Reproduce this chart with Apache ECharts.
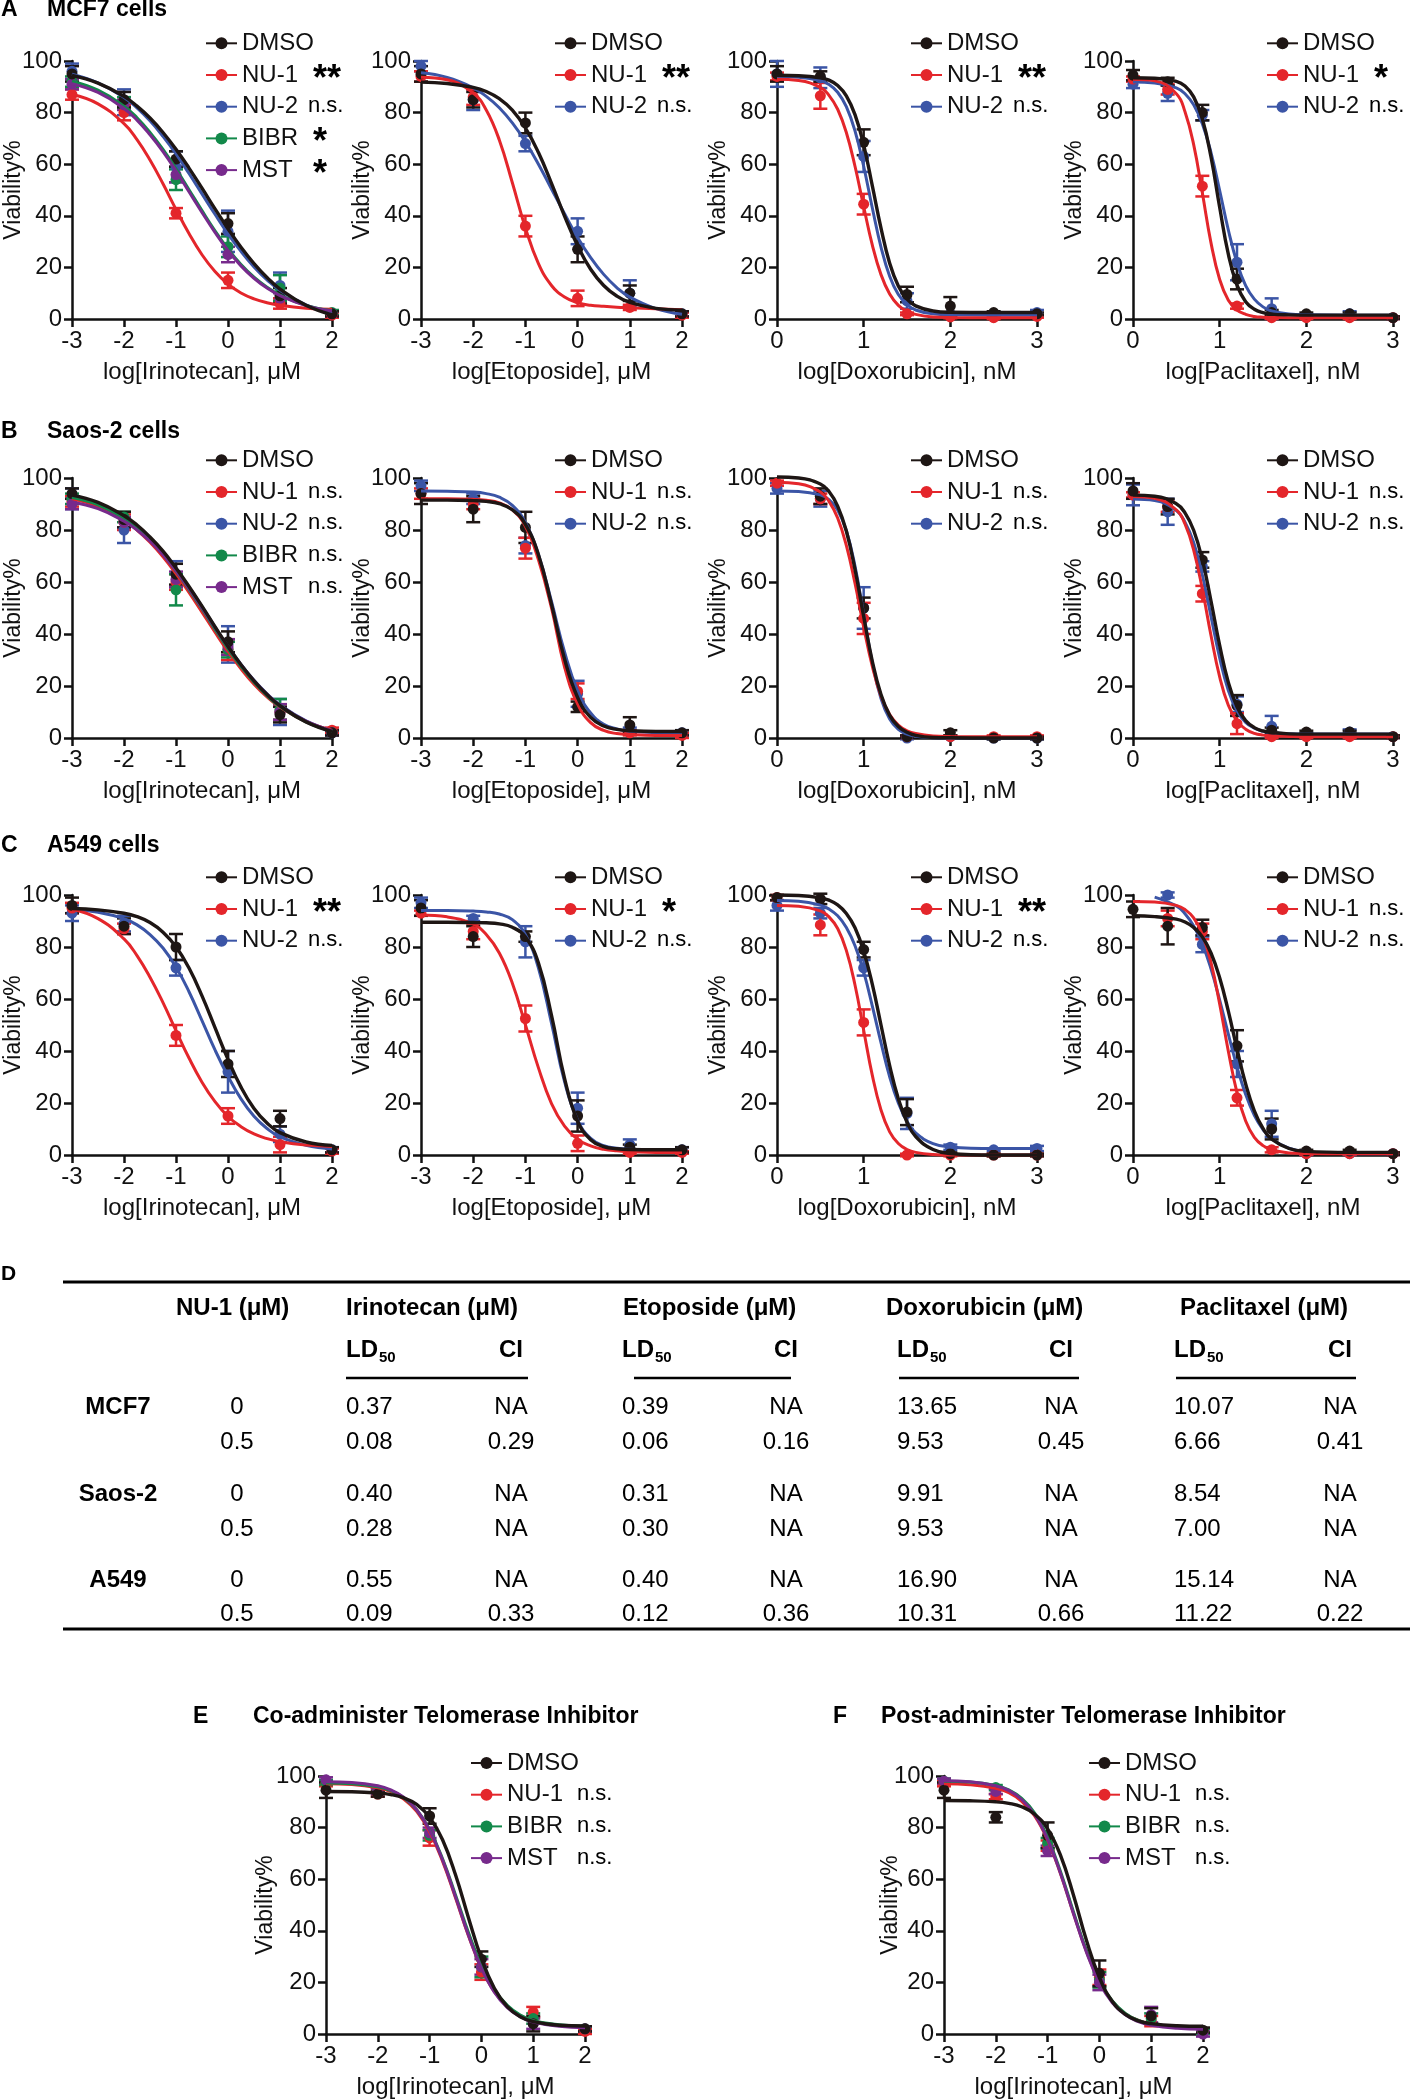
<!DOCTYPE html>
<html><head><meta charset="utf-8">
<script src="https://cdn.jsdelivr.net/npm/echarts/dist/echarts.min.js"></script>
<style>html,body{margin:0;padding:0;background:#fff}#c{width:1410px;height:2100px}</style>
</head><body><div id="c"></div>
<script>
// ---------- shared x positions ----------
const FIT_X_UM = [-3,-2.5,-2,-1.75,-1.5,-1.25,-1,-0.75,-0.5,-0.25,0,0.25,0.5,0.75,1,1.5,2];
const FIT_X_NM = [0,0.25,0.5,0.6,0.7,0.8,0.9,1,1.1,1.2,1.3,1.4,1.5,1.6,1.8,2,2.5,3];
const PT_UM  = [-3,-2,-1,0,1,2];
const PT_DOX = [0,0.5,1,1.5,2,2.5,3];
const PT_PAC = [0,0.4,0.8,1.2,1.6,2,2.5,3];

// ---------- A: MCF7 ----------
const A1_names = ['DMSO','NU-1','NU-2','BIBR','MST'];
const A1_sig = ['','**','n.s.','*','*'];
const A1_fit = [
 [94.4,91.4,86.3,82.5,77.9,72.3,65.8,58.5,50.7,42.7,35.0,27.8,21.5,16.1,11.6,5.3,1.6],
 [87.0,83.4,75.7,69.5,61.6,52.4,42.5,33.1,24.9,18.4,13.5,10.1,7.8,6.3,5.3,4.2,3.8],
 [94.9,91.5,85.9,81.8,76.8,70.8,64.0,56.4,48.5,40.6,33.0,26.2,20.2,15.2,11.1,5.5,2.1],
 [92.2,88.7,82.5,78.0,72.3,65.7,58.2,50.1,42.0,34.2,27.2,21.1,16.2,12.3,9.3,5.3,3.2],
 [91.2,87.8,81.6,77.1,71.4,64.9,57.4,49.3,41.3,33.6,26.6,20.6,15.8,12.0,9.1,5.2,3.1]];
const A1_mean = [[95,85,62,37,9,2],[87,80,41,15,6,1.5],[96,84,59,34,13,2],[92,84,54,28,12,2.5],[91,83,56,25,8,2]];
const A1_sem  = [[3,3,3,4,3,1],[2,3,2,3,2,1],[3,5,6,8,5,1],[2,2,4,4,5,1],[2,2,3,3,2,1]];

const A2_names = ['DMSO','NU-1','NU-2'];
const A2_sig = ['','**','n.s.'];
const A2_fit = [
 [91.8,91.3,89.8,88.2,85.4,81.0,74.1,64.5,52.6,39.9,28.4,19.3,13.0,8.9,6.4,4.1,3.4],
 [93.7,92.7,87.6,81.0,69.4,52.8,35.3,21.5,13.0,8.5,6.3,5.3,4.9,4.6,4.4,4.0,3.6],
 [95.4,93.6,89.6,86.3,81.9,76.0,68.7,60.0,50.4,40.8,31.6,23.8,17.3,12.2,8.5,4.0,1.8]];
const A2_mean = [[95,85,76,27,10,2],[94,86,36,8,4.5,1.5],[98,85,68,34,10,2]];
const A2_sem  = [[3,3,4,5,3,1],[2,3,4,3,1,1],[2,4,3,5,5,1]];

const A3_names = ['DMSO','NU-1','NU-2'];
const A3_sig = ['','**','n.s.'];
const A3_fit = [
 [94.5,94.3,93.5,92.6,90.5,86.5,79.2,67.5,51.6,35.2,21.6,12.8,7.7,5.1,3.1,2.6,2.5,2.5],
 [92.9,92.4,89.8,86.7,81.3,72.3,59.2,43.6,28.6,17.2,9.7,5.3,3.0,1.8,0.8,0.6,0.5,0.5],
 [94.0,93.7,92.4,90.9,87.9,82.3,72.9,59.2,43.0,27.9,16.6,9.5,5.7,3.5,2.0,1.6,1.5,1.5]];
const A3_mean = [[95,94,68.5,9.5,5,2.5,2],[94,86.5,44.5,2,0.8,0.5,1],[95,93.5,63,7,2,2,2.5]];
const A3_sem  = [[3,2,5,3,3.5,0.5,0.5],[1.5,5,4,0.5,0.5,0.5,0.5],[5,4,6,3,0.5,0.5,1]];

const A4_names = ['DMSO','NU-1','NU-2'];
const A4_sig = ['','*','n.s.'];
const A4_fit = [
 [93.5,93.3,92.1,90.3,86.1,77.6,62.8,43.3,25.1,13.1,6.7,3.8,2.5,1.9,1.6,1.5,1.5,1.5],
 [92.9,92.3,87.3,80.3,67.6,48.9,29.5,15.3,7.3,3.5,1.8,1.0,0.7,0.6,0.5,0.5,0.5,0.5],
 [91.9,91.5,89.6,87.3,83.0,75.7,64.5,49.8,34.5,21.8,12.9,7.7,4.7,3.1,1.9,1.6,1.5,1.5]];
const A4_mean = [[94.5,92,80,15.5,2.5,2,2,0.5],[93,89,51.5,5,0.5,0.5,0.5,0.5],[91,87.5,79,22,4,1.3,2,0.5]];
const A4_sem  = [[2,1.5,3,4,1,0.5,0.5,0.5],[1,2,4,1,0.5,0.5,0.5,0.5],[1.5,3,2,7,4,0.5,1,0.5]];

// ---------- B: Saos-2 ----------
const B1_names = ['DMSO','NU-1','NU-2','BIBR','MST'];
const B1_sig = ['','n.s.','n.s.','n.s.','n.s.'];
const B1_fit = [
 [93.4,90.6,85.5,81.9,77.3,71.9,65.4,58.3,50.7,42.8,35.2,28.2,22.0,16.7,12.4,6.2,2.5],
 [92.0,89.0,83.8,80.0,75.3,69.7,63.2,56.0,48.4,40.7,33.3,26.6,20.7,15.8,11.9,6.3,3.0],
 [92.8,90.0,84.9,81.3,76.8,71.4,65.0,58.0,50.5,42.7,35.2,28.3,22.2,17.0,12.7,6.6,2.8],
 [92.5,89.7,84.5,80.8,76.2,70.7,64.2,57.1,49.6,41.8,34.3,27.5,21.4,16.3,12.1,6.2,2.6],
 [90.8,88.2,83.4,80.0,75.7,70.5,64.3,57.4,50.0,42.4,35.0,28.1,22.0,16.8,12.5,6.5,2.8]];
const B1_mean = [[94,84,63,37,9,2],[91,83,60,34,10,3],[92,80,63,36,10,2],[92,85,57,34,11,2],[90,83,61,35,10,2]];
const B1_sem  = [[2,3,4,4,3,1],[2,3,3,4,3,1],[4,5,5,7,5,1],[2,2,6,3,4,1],[2,2,3,3,3,1]];

const B2_names = ['DMSO','NU-1','NU-2'];
const B2_sig = ['','n.s.','n.s.'];
const B2_fit = [
 [91.5,91.5,91.3,91.0,90.1,87.8,82.2,70.5,51.4,30.4,15.6,7.9,4.6,3.3,2.8,2.5,2.5],
 [92.0,92.0,91.8,91.4,90.4,87.7,81.4,68.5,50.0,27.3,13.1,5.9,2.9,1.7,1.3,1.0,1.0],
 [95.0,94.9,94.6,94.0,92.6,89.5,82.9,70.6,52.5,33.1,18.2,9.6,5.3,3.5,2.6,2.1,2.0]];
const B2_mean = [[94,88,81,12,5,2],[94,90,73,18,2,1],[97,92,74,17,3,2]];
const B2_sem  = [[4,5,6,2,3,1],[2,2,4,3,1,1],[2,2,3,5,1,1]];

const B3_names = ['DMSO','NU-1','NU-2'];
const B3_sig = ['','n.s.','n.s.'];
const B3_fit = [
 [100.4,100.0,97.7,94.8,89.2,79.6,64.8,46.8,29.5,16.7,8.7,4.4,2.2,1.0,0.2,0.1,0,0],
 [98.4,97.8,94.6,91.0,84.6,74.1,59.5,42.7,27.5,16.2,9.0,5.0,2.8,1.7,0.8,0.6,0.5,0.5],
 [95.0,94.8,93.5,91.7,87.7,79.8,66.1,47.5,28.9,15.2,7.3,3.3,1.5,0.7,0.1,0,0,0]];
const B3_mean = [[null,93,50,0.5,2,0,0],[98,92,46,0.5,0.5,0.5,0.5],[96,92,50,0,0.5,0,0]];
const B3_sem  = [[0,3,4,0.5,1,0.5,0.5],[1,2,6,0.5,0.5,0.5,0.5],[2,3,8,0.5,0.5,0.5,0.5]];

const B4_names = ['DMSO','NU-1','NU-2'];
const B4_sig = ['','n.s.','n.s.'];
const B4_fit = [
 [93.4,93.0,90.1,86.6,79.9,68.6,52.7,35.6,21.4,12.0,6.7,4.0,2.7,2.1,1.6,1.5,1.5,1.5],
 [92.9,92.2,87.7,82.3,72.3,57.2,39.4,23.5,12.6,6.5,3.4,1.8,1.1,0.8,0.6,0.5,0.5,0.5],
 [91.9,91.3,87.5,83.0,75.2,62.7,46.8,30.8,18.3,10.5,6.0,3.8,2.6,2.0,1.6,1.5,1.5,1.5]];
const B4_mean = [[95,89,68.5,12.5,3,2.3,2.3,0.5],[93.5,89,55.5,5.5,0.5,0.5,0.5,0.5],[93.5,87,66,13,4.5,1.2,2.3,0.5]];
const B4_sem  = [[3,3,3,4,1,0.5,0.5,0.5],[1,2,3,4,0.5,0.5,0.5,0.5],[4,5,2,3,4,0.5,1,0.5]];

// ---------- C: A549 ----------
const C1_names = ['DMSO','NU-1','NU-2'];
const C1_sig = ['','**','n.s.'];
const C1_fit = [
 [94.8,94.3,93.0,91.7,89.4,85.7,80.1,71.9,61.2,49.0,36.8,26.1,17.9,12.3,8.6,5.0,3.7],
 [94.5,90.9,83.1,76.7,68.4,58.6,47.8,37.3,28.0,20.5,14.8,10.9,8.1,6.3,5.1,3.8,3.3],
 [94.4,93.4,90.9,88.5,84.8,79.6,72.3,62.8,51.7,40.4,30.3,21.6,14.9,10.2,7.0,3.7,2.3]];
const C1_mean = [[96,88,80,35,14,2],[95,87,46,15,4,1.5],[93,89,72,32,8,2]];
const C1_sem  = [[3,3,5,5,3,1],[2,2,4,3,3,1],[3,3,3,8,3,1]];

const C2_names = ['DMSO','NU-1','NU-2'];
const C2_sig = ['','*','n.s.'];
const C2_fit = [
 [89.5,89.5,89.4,89.3,88.9,87.6,83.8,73.8,53.7,29.5,13.0,5.9,3.2,2.4,2.1,2.0,2.0],
 [92.3,91.6,88.8,84.8,77.7,66.1,50.1,33.5,19.8,11.1,6.0,3.5,2.2,1.6,1.3,1.0,1.0],
 [94.0,94.0,93.8,93.5,92.7,90.5,84.7,71.9,50.7,28.2,13.4,6.4,3.6,2.6,2.2,2.0,2.0]];
const C2_mean = [[95,84,84,15,3,2],[93,86,52.5,4.5,1,1],[97,91,82,18,4,2]];
const C2_sem  = [[3,4,2,6,1,1],[1,3,5,3,0.5,0.5],[2,1,6,6,2,1]];

const C3_names = ['DMSO','NU-1','NU-2'];
const C3_sig = ['','**','n.s.'];
const C3_fit = [
 [100,99.8,98.9,98.0,96.2,92.9,87.4,78.4,65.6,50.0,34.4,21.6,12.6,7.1,2.1,0.6,0,0],
 [96.0,95.7,93.9,91.6,87.1,78.7,65.4,48.0,30.6,17.3,8.9,4.4,2.1,1.0,0.2,0,0,0],
 [97.9,97.6,96.1,94.6,92.0,87.5,80.5,70.4,57.3,43.2,30.1,20.0,13.0,8.5,4.4,3.1,2.5,2.5]];
const C3_mean = [[99,98.5,79,16.5,0.5,0,0],[99,88.5,51,0,0,0,0],[96,93,72,16,3,2,2.5]];
const C3_sem  = [[1,2,3,5,0.5,0.5,0.5],[1,4,5,0.5,0.5,0.5,0.5],[2,2,3,6,1,0.5,1]];

const C4_names = ['DMSO','NU-1','NU-2'];
const C4_sig = ['','n.s.','n.s.'];
const C4_fit = [
 [92.0,91.7,90.7,89.6,87.5,83.9,77.7,68.2,55.3,40.8,27.3,17.0,10.2,6.1,2.5,1.4,1.0,1.0],
 [97.5,97.3,96.0,94.4,91.2,84.9,74.0,58.1,39.9,24.0,13.1,6.8,3.6,2.0,0.8,0.6,0.5,0.5],
 [null,99.2,95.8,92.8,88.1,81.2,71.6,59.6,46.5,33.9,23.3,15.3,9.8,6.2,2.6,1.2,0.5,0.5]];
const C4_mean = [[94.5,88,87.5,42,10,1.5,1.5,0.5],[null,91,86,22,2,0.5,0.5,0.5],[null,100,81,35,12,0.5,0.5,0.5]];
const C4_sem  = [[3,7,3,6,4,0.5,0.5,0.5],[0,3,3,3,1,0.5,0.5,0.5],[0,1,3,5,5,0.5,0.5,0.5]];

// ---------- E / F ----------
const E_names = ['DMSO','NU-1','BIBR','MST'];
const E_sig = ['','n.s.','n.s.','n.s.'];
const E_fit = [
 [94.0,93.9,93.4,92.8,91.5,89.0,84.0,75.3,61.7,45.1,29.3,17.7,10.6,6.7,4.8,3.4,3.1],
 [97.0,96.7,95.4,93.9,91.1,86.3,78.4,67.0,52.8,38.1,25.5,16.4,10.6,7.1,5.1,3.4,2.8],
 [97.3,97.0,95.8,94.3,91.6,86.9,79.2,67.9,53.9,39.3,26.6,17.2,11.1,7.3,5.2,3.6,3.0],
 [97.8,97.5,96.2,94.6,91.8,86.9,79.0,67.5,53.2,38.3,25.5,16.2,10.2,6.7,4.6,3.0,2.4]];
const E_mean = [[94.5,93,84.5,29,4,2],[97,93,76,24,8.5,1],[97.5,94.5,77,26,6,2],[98.5,94,78,26,4,2]];
const E_sem  = [[3,1,3,3,3,1],[1,1,3,3,2,1],[1,1,2,4,2,1],[1,1,2,3,2,1]];

const F_names = ['DMSO','NU-1','BIBR','MST'];
const F_sig = ['','n.s.','n.s.','n.s.'];
const F_fit = [
 [90.5,90.4,90.0,89.4,88.1,85.2,79.5,69.2,53.8,36.3,21.9,12.6,7.6,5.1,4.0,3.2,3.0],
 [97.0,96.6,95.2,93.5,90.2,84.5,75.2,62.1,46.7,32.0,20.3,12.6,7.9,5.3,3.9,2.7,2.4],
 [98.0,97.7,96.3,94.6,91.3,85.6,76.2,62.9,47.3,32.4,20.6,12.8,8.0,5.3,3.9,2.6,2.2],
 [98.2,97.8,96.2,94.4,90.9,85.0,75.5,62.2,46.6,31.7,19.9,12.1,7.4,4.8,3.4,2.2,1.8]];
const F_mean = [[94.5,84,77,23.5,7,1.5],[97,92,73,22,5,1],[98,95.5,74,21,6,1],[98,94,71,20,7.5,0]];
const F_sem  = [[3,2,5,5,3,1],[1,1,2,3,2,1],[1,1,2,3,2,1],[1,1,2,3,3,1]];

// ---------- D: table ----------
const TBL_DRUGS = ['Irinotecan (μM)','Etoposide (μM)','Doxorubicin (μM)','Paclitaxel (μM)'];
const TBL_CELLS = ['MCF7','Saos-2','A549'];
const TBL_DOSES = ['0','0.5'];
const TBL_MCF7  = [['0.37','NA','0.39','NA','13.65','NA','10.07','NA'],['0.08','0.29','0.06','0.16','9.53','0.45','6.66','0.41']];
const TBL_SAOS2 = [['0.40','NA','0.31','NA','9.91','NA','8.54','NA'],['0.28','NA','0.30','NA','9.53','NA','7.00','NA']];
const TBL_A549  = [['0.55','NA','0.40','NA','16.90','NA','15.14','NA'],['0.09','0.33','0.12','0.36','10.31','0.66','11.22','0.22']];

// ---------- styling / layout ----------
const FONT = '"Liberation Sans", Arial, Helvetica, sans-serif';
const TXT = '#111';
const AX = '#111';
const COLORS = {'DMSO':'#1e1614','NU-1':'#e4262b','NU-2':'#3b55a6','BIBR':'#12894a','MST':'#772a8c'};
const DRAW_ORDER = ['NU-2','NU-1','BIBR','MST','DMSO'];
const LEG_ROW = {dx:133, dy:-30.7, gap:5.7, nsX:103, stX:108};
const LEG_EF  = {dx:144, dy:-26,   gap:5.7, nsX:107, stX:111};
const COLX = [72, 421, 777, 1133];
const ROWY = [61, 478, 895];
const ROWH = [258, 260, 260];

const xIri = 'log[Irinotecan], μM', xEto = 'log[Etoposide], μM', xDox = 'log[Doxorubicin], nM', xPac = 'log[Paclitaxel], nM';
function P(L,T,W,H,um,xName,names,sig,fit,mean,sem,pts,leg,yGap){return {L,T,W,H,um,xName,names,sig,fit,mean,sem,pts,leg,yGap};}
const PANELS = [
 P(COLX[0],ROWY[0],260,ROWH[0],true ,xIri,A1_names,A1_sig,A1_fit,A1_mean,A1_sem,PT_UM ,LEG_ROW,47),
 P(COLX[1],ROWY[0],261,ROWH[0],true ,xEto,A2_names,A2_sig,A2_fit,A2_mean,A2_sem,PT_UM ,LEG_ROW,47),
 P(COLX[2],ROWY[0],260,ROWH[0],false,xDox,A3_names,A3_sig,A3_fit,A3_mean,A3_sem,PT_DOX,LEG_ROW,47),
 P(COLX[3],ROWY[0],260,ROWH[0],false,xPac,A4_names,A4_sig,A4_fit,A4_mean,A4_sem,PT_PAC,LEG_ROW,47),
 P(COLX[0],ROWY[1],260,ROWH[1],true ,xIri,B1_names,B1_sig,B1_fit,B1_mean,B1_sem,PT_UM ,LEG_ROW,47),
 P(COLX[1],ROWY[1],261,ROWH[1],true ,xEto,B2_names,B2_sig,B2_fit,B2_mean,B2_sem,PT_UM ,LEG_ROW,47),
 P(COLX[2],ROWY[1],260,ROWH[1],false,xDox,B3_names,B3_sig,B3_fit,B3_mean,B3_sem,PT_DOX,LEG_ROW,47),
 P(COLX[3],ROWY[1],260,ROWH[1],false,xPac,B4_names,B4_sig,B4_fit,B4_mean,B4_sem,PT_PAC,LEG_ROW,47),
 P(COLX[0],ROWY[2],260,ROWH[2],true ,xIri,C1_names,C1_sig,C1_fit,C1_mean,C1_sem,PT_UM ,LEG_ROW,47),
 P(COLX[1],ROWY[2],261,ROWH[2],true ,xEto,C2_names,C2_sig,C2_fit,C2_mean,C2_sem,PT_UM ,LEG_ROW,47),
 P(COLX[2],ROWY[2],260,ROWH[2],false,xDox,C3_names,C3_sig,C3_fit,C3_mean,C3_sem,PT_DOX,LEG_ROW,47),
 P(COLX[3],ROWY[2],260,ROWH[2],false,xPac,C4_names,C4_sig,C4_fit,C4_mean,C4_sem,PT_PAC,LEG_ROW,47),
 P(326,1776,259,258,true,xIri,E_names,E_sig,E_fit,E_mean,E_sem,PT_UM,LEG_EF,49),
 P(944,1776,259,258,true,xIri,F_names,F_sig,F_fit,F_mean,F_sem,PT_UM,LEG_EF,42)
];

function errRender(color){
  return function(params, api){
    const x = api.value(0), lo = api.value(1), hi = api.value(2);
    const a = api.coord([x, hi]), b = api.coord([x, lo]);
    const c = 7, st = {stroke: color, lineWidth: 2.5};
    return {type:'group', children:[
      {type:'line', shape:{x1:a[0],y1:a[1],x2:b[0],y2:b[1]}, style:st},
      {type:'line', shape:{x1:a[0]-c,y1:a[1],x2:a[0]+c,y2:a[1]}, style:st},
      {type:'line', shape:{x1:b[0]-c,y1:b[1],x2:b[0]+c,y2:b[1]}, style:st}]};
  };
}

const G = [];
function txt(x,y,text,size,bold,align){
  G.push({type:'text', x:x, y:y, silent:true, style:{text:text, fill:'#000',
    font:(bold?'bold ':'')+size+'px '+FONT, textAlign:align||'left', textVerticalAlign:'middle'}});
}
function hline(x1,x2,y,w){ G.push({type:'line', silent:true, shape:{x1:x1,y1:y,x2:x2,y2:y}, style:{stroke:'#000', lineWidth:w}}); }

const option = {animation:false, backgroundColor:'#ffffff', grid:[], xAxis:[], yAxis:[], series:[], legend:[]};

PANELS.forEach((p,i)=>{
  option.grid.push({left:p.L, top:p.T, width:p.W, height:p.H, containLabel:false, outerBoundsMode:'none'});
  const axLine = {show:true, onZero:false, lineStyle:{color:AX, width:2.5}};
  const axTick = {show:true, inside:false, length:8, lineStyle:{color:AX, width:2.5}};
  option.xAxis.push({gridIndex:i, type:'value', min:p.um?-3:0, max:p.um?2:3, interval:1,
    name:p.xName, nameLocation:'middle', nameGap:41, nameMoveOverlap:false,
    nameTextStyle:{fontSize:24, color:TXT, fontFamily:FONT},
    axisLine:axLine, axisTick:axTick, splitLine:{show:false},
    axisLabel:{margin:10, fontSize:24, color:TXT, fontFamily:FONT, hideOverlap:false, showMinLabel:true, showMaxLabel:true}});
  option.yAxis.push({gridIndex:i, type:'value', min:0, max:100, interval:20,
    name:'Viability%', nameLocation:'middle', nameGap:p.yGap, nameMoveOverlap:false,
    nameTextStyle:{fontSize:23, color:TXT, fontFamily:FONT},
    axisLine:axLine, axisTick:axTick, splitLine:{show:false},
    axisLabel:{margin:10, fontSize:24, color:TXT, fontFamily:FONT, hideOverlap:false, showMinLabel:true, showMaxLabel:true}});

  const fitX = p.um ? FIT_X_UM : FIT_X_NM;
  DRAW_ORDER.filter(n=>p.names.indexOf(n)>=0).forEach(n=>{
    const k = p.names.indexOf(n), col = COLORS[n];
    const curve = [];
    fitX.forEach((x,j)=>{ const v = p.fit[k][j]; if(v!=null) curve.push([x,v]); });
    option.series.push({type:'line', name:n, xAxisIndex:i, yAxisIndex:i, data:curve, smooth:0.45,
      symbol:'circle', showSymbol:false, clip:false, silent:true, emphasis:{disabled:true},
      lineStyle:{color:col, width:n==='DMSO'?3.4:3}, itemStyle:{color:col}});
    const pts = [], eb = [];
    p.pts.forEach((x,j)=>{ const m = p.mean[k][j]; if(m==null) return; pts.push([x,m]);
      const e = p.sem[k][j]; if(e) eb.push([x,m-e,m+e]); });
    option.series.push({type:'custom', name:n, xAxisIndex:i, yAxisIndex:i, data:eb, encode:{x:0,y:[1,2]},
      renderItem:errRender(col), clip:false, silent:true});
    option.series.push({type:'scatter', name:n, xAxisIndex:i, yAxisIndex:i, data:pts, symbol:'circle', symbolSize:11,
      itemStyle:{color:col, opacity:1}, clip:false, silent:true, emphasis:{disabled:true}});
  });

  const lg = p.leg, legLeft = p.L + lg.dx, legTop = p.T + lg.dy;
  option.legend.push({show:true, orient:'vertical', left:legLeft, top:legTop,
    itemWidth:31, itemHeight:15, itemGap:lg.gap, padding:0, selectedMode:false, data:p.names.slice(),
    textStyle:{color:TXT, fontFamily:FONT, fontSize:24, lineHeight:26}});
  // significance marks next to legend rows
  p.names.forEach((n,r)=>{
    const s = p.sig[r]; if(!s) return;
    const yc = legTop + 13 + r*(26 + lg.gap);
    if(s==='n.s.') txt(legLeft + lg.nsX, yc - 0.5, 'n.s.', 22, false);
    else txt(legLeft + lg.stX, yc + 5, s, 36, true);
  });
});

// ---------- graphic: titles and table ----------
txt(1,9.5,'A',23,true);   txt(47,9.5,'MCF7 cells',23,true);
txt(1,431.5,'B',23,true); txt(47,431.5,'Saos-2 cells',23,true);
txt(1,846,'C',23,true);   txt(47,846,'A549 cells',23,true);
txt(1,1274.5,'D',21,true);
txt(193,1716.5,'E',23,true); txt(253,1716.5,'Co-administer Telomerase Inhibitor',23,true);
txt(833,1716.5,'F',23,true); txt(881,1716.5,'Post-administer Telomerase Inhibitor',23,true);

const T_LD_X = [346,622,897,1174];
const T_CI_X = [511,786,1061,1340];
const T_HEAD_X = [346,623,886,1180];
const T_ROW_Y = [[1407,1442],[1494,1529],[1580,1614]];
hline(63,1410,1282,3); hline(63,1410,1629,3);
[[346,528],[634,791],[899,1079],[1176,1356]].forEach(s=>hline(s[0],s[1],1378,2.5));
txt(176,1308,'NU-1 (μM)',24,true);
TBL_DRUGS.forEach((d,j)=>{
  txt(T_HEAD_X[j],1308,d,24,true);
  txt(T_LD_X[j],1350,'LD',24,true); txt(T_LD_X[j]+33,1358,'50',15,true);
  txt(T_CI_X[j],1350,'CI',24,true,'center');
});
[TBL_MCF7,TBL_SAOS2,TBL_A549].forEach((rows,ci)=>{
  txt(118,T_ROW_Y[ci][0],TBL_CELLS[ci],24,true,'center');
  rows.forEach((r,ri)=>{
    const y = T_ROW_Y[ci][ri];
    txt(237,y,TBL_DOSES[ri],24,false,'center');
    for(let j=0;j<4;j++){ txt(T_LD_X[j],y,r[2*j],24,false,'left'); txt(T_CI_X[j],y,r[2*j+1],24,false,'center'); }
  });
});
option.graphic = {elements:G};

const chart = echarts.init(document.getElementById('c'), null, {renderer:'canvas'});
chart.setOption(option);
</script></body></html>
